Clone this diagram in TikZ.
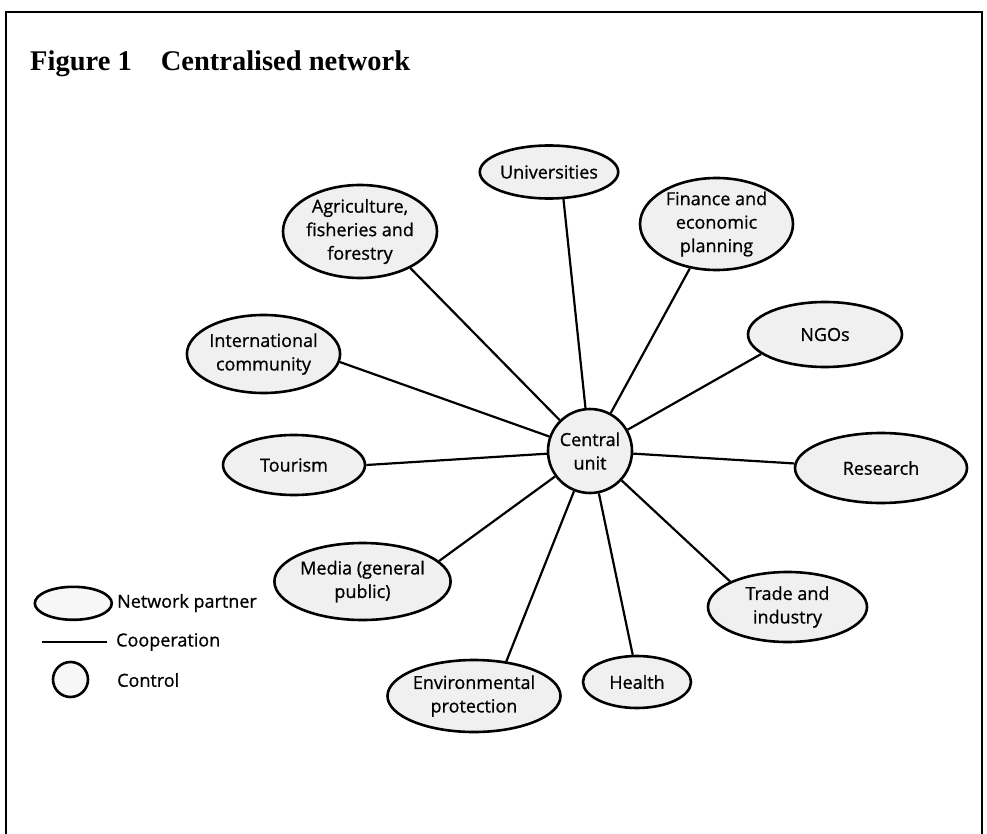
\documentclass[tikz,border=0pt]{standalone}
\usepackage{fontspec}
\setmainfont{Open Sans}
\newfontfamily\lblfont{Open Sans}[FakeBold=0.8]
\newfontfamily\titlefont{Liberation Serif}
\usetikzlibrary{shapes.geometric}
\begin{document}
\begin{tikzpicture}[x=1pt,y=-1pt,
  txt/.style={font=\lblfont\fontsize{18}{23.5}\selectfont},
  partner/.style={ellipse, draw, line width=2.6pt, fill=gray!12, inner sep=0pt, align=center, txt},
  ctrl/.style={circle, draw, line width=2.6pt, fill=gray!12, inner sep=0pt, align=center, txt},
  link/.style={line width=2.2pt},
  legtext/.style={anchor=west, inner sep=0pt, txt}]
\useasboundingbox (0,0) rectangle (987,834);
\draw[line width=1.8pt] (6,834) -- (6,12) -- (982,12) -- (982,834);
\node[anchor=base west, inner sep=0pt, font=\titlefont\bfseries\fontsize{28.5}{32}\selectfont] (title) at (30,71) {Figure 1\hspace{29pt}Centralised network};

\node[ctrl, minimum size=84pt] (c) at (590,451) {Central\\unit};

\node[partner, minimum width=135pt, minimum height=53pt] (u) at (549,172) {Universities};
\node[partner, minimum width=154pt, minimum height=93pt] (a) at (360,231.5) {Agriculture,\\fisheries and\\forestry};
\node[partner, minimum width=153pt, minimum height=92pt] (f) at (716.5,224) {Finance and\\economic\\planning};
\node[partner, minimum width=154pt, minimum height=65pt] (n) at (825,334.5) {NGOs};
\node[partner, minimum width=153pt, minimum height=78pt] (i) at (263.5,354) {International\\community};
\node[partner, minimum width=142pt, minimum height=60pt] (t) at (294,465) {Tourism};
\node[partner, minimum width=172pt, minimum height=70pt] (r) at (881,468) {Research};
\node[partner, minimum width=159pt, minimum height=70pt] (td) at (787.5,607) {Trade and\\industry};
\node[partner, minimum width=151pt, minimum height=77pt] (m) at (362.5,581.5) {Media (general\\public)};
\node[partner, minimum width=158pt, minimum height=72pt] (e) at (474,696) {Environmental\\protection};
\node[partner, minimum width=108pt, minimum height=52pt] (h) at (637,682) {Health};

\draw[link] (c) -- (u.-62);
\draw[link] (c) -- (a.-36);
\draw[link] (c) -- (f.-121);
\draw[link] (c) -- (n.-163);
\draw[link] (c) -- (i.-6);
\draw[link] (c) -- (t.0);
\draw[link] (c) -- (r.177);
\draw[link] (c) -- (td.156);
\draw[link] (c) -- (m.15);
\draw[link] (c) -- (e.47);
\draw[link] (c) -- (h.99);

% legend
\node[partner, fill=gray!6, minimum width=77pt, minimum height=33pt] (lp) at (73.3,603.3) {};
\node[legtext] (lpt) at (117,603) {Network partner};
\coordinate (l1) at (42,642);
\coordinate (l2) at (107,642);
\draw[link] (l1) -- (l2);
\node[legtext] (lct) at (116,642) {Cooperation};
\node[ctrl, fill=gray!6, minimum size=35pt] (lc) at (70.5,679.5) {};
\node[legtext] (lcc) at (117,680) {Control};
\end{tikzpicture}
\end{document}
